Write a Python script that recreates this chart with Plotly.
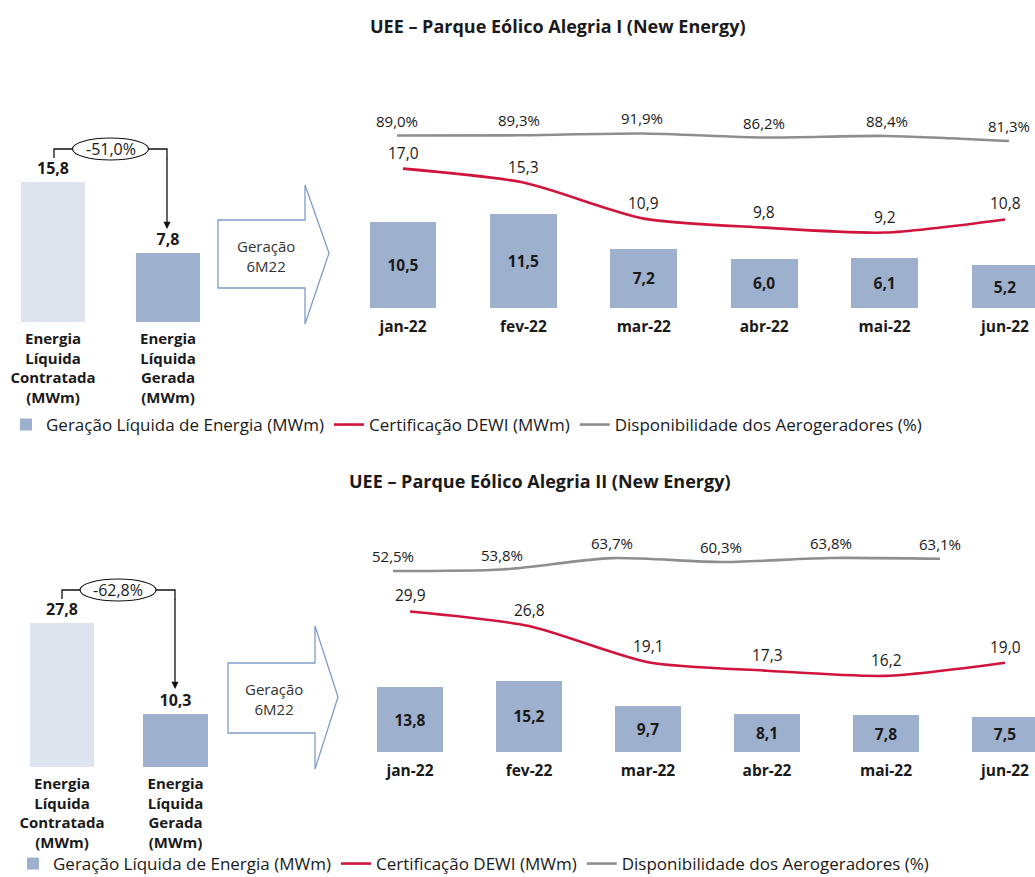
import plotly.graph_objects as go

W, H = 1035, 877


def X(px):
    return px / W


def Y(py):
    return 1 - py / H


# ---------------- data ----------------
months = ["jan-22", "fev-22", "mar-22", "abr-22", "mai-22", "jun-22"]
left_cats = ["Energia<br>Líquida<br>Contratada<br>(MWm)", "Energia<br>Líquida<br>Gerada<br>(MWm)"]
titles = ["UEE – Parque Eólico Alegria I (New Energy)",
          "UEE – Parque Eólico Alegria II (New Energy)"]
series_names = ["Geração Líquida de Energia (MWm)",
                "Certificação DEWI (MWm)",
                "Disponibilidade dos Aerogeradores (%)"]
arrow_label = "Geração<br>6M22"

p1_left = [15.8, 7.8]
p1_change = -51.0
p1_gen = [10.5, 11.5, 7.2, 6.0, 6.1, 5.2]
p1_dewi = [17.0, 15.3, 10.9, 9.8, 9.2, 10.8]
p1_avail = [89.0, 89.3, 91.9, 86.2, 88.4, 81.3]

p2_left = [27.8, 10.3]
p2_change = -62.8
p2_gen = [13.8, 15.2, 9.7, 8.1, 7.8, 7.5]
p2_dewi = [29.9, 26.8, 19.1, 17.3, 16.2, 19.0]
p2_avail = [52.5, 53.8, 63.7, 60.3, 63.8, 63.1]

# ---------------- styles ----------------
FONT = "Open Sans"
TXT = "#1a1a1a"
BAR = "#9DB0CE"
BAR_LIGHT = "#DEE4EE"
RED = "#D0143C"
GRAY = "#8E8E8E"
ARROW_LINE = "#7F9DCB"


def fmt(v, pct=False):
    s = f"{v:.1f}".replace(".", ",")
    return s + ("%" if pct else "")


panels = [
    dict(
        left=p1_left, change=p1_change, gen=p1_gen, dewi=p1_dewi, avail=p1_avail,
        title=titles[0], title_xy=(558, 26), top=90,
        L=dict(c0=53, step=115, base=322, ppu=8.86, bw=0.565, r0=-0.45),
        R=dict(c0=403, step=120.4, base=308, ppu=8.2, bw=0.556),
        G=dict(c0=397, step=122.4, base=308, ref_v=81.3, ref_y=141, ppu=0.71),
        conn=dict(x1=54, y1=158, yh=149, x2=167, ytip=229, ecx=110.5, ew=76, eh=22),
        arr=dict(xl=218, bt=220, bb=288, hx=305, ht=185, hb=324, tx=329, ty=253, cx=266, cy=256),
        legend=(6, 407),
    ),
    dict(
        left=p2_left, change=p2_change, gen=p2_gen, dewi=p2_dewi, avail=p2_avail,
        title=titles[1], title_xy=(540, 481), top=540,
        L=dict(c0=62, step=113.5, base=767, ppu=5.18, bw=0.564, r0=-0.5),
        R=dict(c0=410, step=119, base=752, ppu=4.7, bw=0.56),
        G=dict(c0=393, step=109.4, base=752, ref_v=52.5, ref_y=571, ppu=1.15),
        conn=dict(x1=62, y1=599, yh=590, x2=175, ytip=689, ecx=118, ew=76, eh=22),
        arr=dict(xl=228, bt=663, bb=733, hx=315, ht=626, hb=769, tx=338, ty=697, cx=274, cy=699),
        legend=(13, 846),
    ),
]

fig = go.Figure()
layout = dict(
    width=W, height=H, autosize=False,
    margin=dict(l=0, r=0, t=0, b=0, pad=0, autoexpand=False),
    paper_bgcolor="white", plot_bgcolor="rgba(0,0,0,0)",
    separators=",.",
    font=dict(family=FONT, color=TXT, size=14),
    bargap=0,
    showlegend=True,
)
shapes = []
annotations = []


def hidden_axis(**kw):
    d = dict(showgrid=False, zeroline=False, showline=False, ticks="",
             showticklabels=False, fixedrange=True)
    d.update(kw)
    return d


for pi, P in enumerate(panels):
    k = pi * 3
    xl, xr, xg = f"x{k + 1 if k else ''}", f"x{k + 2}", f"x{k + 3}"
    yl, yr, yg = f"y{k + 1 if k else ''}", f"y{k + 2}", f"y{k + 3}"
    axl = "xaxis" + (str(k + 1) if k else "")
    ayl = "yaxis" + (str(k + 1) if k else "")
    leg = "legend" if pi == 0 else "legend2"
    top = P["top"]

    # ----- left comparison bars -----
    L = P["L"]
    r1 = 1.5
    layout[axl] = hidden_axis(
        type="category", range=[L["r0"], r1],
        domain=[X(L["c0"] + L["r0"] * L["step"]), X(L["c0"] + r1 * L["step"])],
        anchor=yl, showticklabels=True, ticklabelstandoff=6,
        tickfont=dict(family=FONT, size=15, color=TXT, weight="bold"),
    )
    layout[ayl] = hidden_axis(
        range=[0, (L["base"] - top) / L["ppu"]],
        domain=[Y(L["base"]), Y(top)], anchor=xl,
    )
    fig.add_trace(go.Bar(
        x=left_cats, y=P["left"], xaxis=xl, yaxis=yl, width=L["bw"],
        marker=dict(color=[BAR_LIGHT, BAR], line=dict(width=0)),
        texttemplate="%{y:.1f}", textposition="outside", cliponaxis=False,
        textfont=dict(family=FONT, size=16, color=TXT, weight="bold"),
        showlegend=False, hoverinfo="skip",
    ))

    # ----- monthly bars + DEWI line -----
    R = P["R"]
    rr1 = min(5.5, (W - R["c0"]) / R["step"])
    layout["xaxis" + str(k + 2)] = hidden_axis(
        type="category", range=[-0.5, rr1],
        domain=[X(R["c0"] - 0.5 * R["step"]), X(R["c0"] + rr1 * R["step"])],
        anchor=yr, showticklabels=True, ticklabelstandoff=7,
        tickfont=dict(family=FONT, size=15.5, color=TXT, weight="bold"),
    )
    layout["yaxis" + str(k + 2)] = hidden_axis(
        range=[0, (R["base"] - top) / R["ppu"]],
        domain=[Y(R["base"]), Y(top)], anchor=xr,
    )
    fig.add_trace(go.Bar(
        x=months, y=P["gen"], xaxis=xr, yaxis=yr, width=R["bw"],
        name=series_names[0], legend=leg,
        marker=dict(color=BAR, line=dict(width=0)),
        texttemplate="%{y:.1f}", textposition="inside", insidetextanchor="middle",
        textangle=0,
        textfont=dict(family=FONT, size=15.5, color=TXT, weight="bold"),
        hoverinfo="skip",
    ))
    fig.add_trace(go.Scatter(
        x=months, y=P["dewi"], xaxis=xr, yaxis=yr, mode="lines",
        name=series_names[1], legend=leg,
        line=dict(color=RED, width=2.6, shape="spline", smoothing=0.7),
        hoverinfo="skip",
    ))
    for m, v in zip(months, P["dewi"]):
        annotations.append(dict(
            x=m, y=v, xref=xr, yref=yr, text=fmt(v), showarrow=False,
            yshift=16, font=dict(family=FONT, size=15.5, color=TXT),
        ))

    # ----- availability line -----
    G = P["G"]

    def gv(py, G=G):
        return G["ref_v"] + (G["ref_y"] - py) / G["ppu"]

    gr1 = min(5.5, (W - G["c0"]) / G["step"])
    layout["xaxis" + str(k + 3)] = hidden_axis(
        type="category", range=[-0.5, gr1],
        domain=[X(G["c0"] - 0.5 * G["step"]), X(G["c0"] + gr1 * G["step"])],
        anchor=yg,
    )
    layout["yaxis" + str(k + 3)] = hidden_axis(
        range=[gv(G["base"]), gv(top)],
        domain=[Y(G["base"]), Y(top)], anchor=xg,
    )
    fig.add_trace(go.Scatter(
        x=months, y=P["avail"], xaxis=xg, yaxis=yg, mode="lines",
        name=series_names[2], legend=leg,
        line=dict(color=GRAY, width=2.6, shape="spline", smoothing=0.7),
        hoverinfo="skip",
    ))
    for m, v in zip(months, P["avail"]):
        annotations.append(dict(
            x=m, y=v, xref=xg, yref=yg, text=fmt(v, pct=True), showarrow=False,
            yshift=15, font=dict(family=FONT, size=15, color=TXT),
        ))

    # ----- title -----
    tx, ty = P["title_xy"]
    annotations.append(dict(
        x=X(tx), y=Y(ty), xref="paper", yref="paper", showarrow=False,
        text=P["title"], xanchor="center", yanchor="middle",
        font=dict(family=FONT, size=18, color=TXT, weight="bold"),
    ))

    # ----- connector with % change -----
    C = P["conn"]
    shapes.append(dict(
        type="path", xref="paper", yref="paper", layer="above",
        path=f"M {X(C['x1'])},{Y(C['y1'])} L {X(C['x1'])},{Y(C['yh'])} "
             f"L {X(C['x2'])},{Y(C['yh'])} L {X(C['x2'])},{Y(C['yh'] + 10)}",
        line=dict(color="#111111", width=1.3),
    ))
    annotations.append(dict(
        x=X(C["x2"]), y=Y(C["ytip"]), xref="paper", yref="paper",
        ax=0, ay=-(C["ytip"] - C["yh"] - 8), axref="pixel", ayref="pixel",
        showarrow=True, arrowhead=2, arrowsize=1.1, arrowwidth=1.3,
        arrowcolor="#111111", text="", standoff=0,
    ))
    shapes.append(dict(
        type="circle", xref="paper", yref="paper", layer="above",
        x0=X(C["ecx"] - C["ew"] / 2), x1=X(C["ecx"] + C["ew"] / 2),
        y0=Y(C["yh"] + C["eh"] / 2), y1=Y(C["yh"] - C["eh"] / 2),
        fillcolor="white", line=dict(color="#111111", width=1.1),
    ))
    annotations.append(dict(
        x=X(C["ecx"]), y=Y(C["yh"]), xref="paper", yref="paper", showarrow=False,
        text=fmt(P["change"], pct=True), xanchor="center", yanchor="middle",
        font=dict(family=FONT, size=16, color=TXT),
    ))

    # ----- block arrow "Geração 6M22" -----
    A = P["arr"]
    pts = [(A["xl"], A["bt"]), (A["hx"], A["bt"]), (A["hx"], A["ht"]), (A["tx"], A["ty"]),
           (A["hx"], A["hb"]), (A["hx"], A["bb"]), (A["xl"], A["bb"])]
    path = "M " + " L ".join(f"{X(a)},{Y(b)}" for a, b in pts) + " Z"
    shapes.append(dict(
        type="path", xref="paper", yref="paper", path=path, layer="above",
        fillcolor="white", line=dict(color=ARROW_LINE, width=1.3),
    ))
    annotations.append(dict(
        x=X(A["cx"]), y=Y(A["cy"]), xref="paper", yref="paper", showarrow=False,
        text=arrow_label, xanchor="center", yanchor="middle",
        font=dict(family=FONT, size=15, color="#333333"),
    ))

    # ----- legend -----
    lx, ly = P["legend"]
    layout[leg] = dict(
        x=X(lx), y=Y(ly), xanchor="left", yanchor="top", orientation="h",
        font=dict(family=FONT, size=17, color=TXT), bgcolor="rgba(0,0,0,0)",
        itemwidth=30, tracegroupgap=0, traceorder="normal",
    )

layout["shapes"] = shapes
layout["annotations"] = annotations
fig.update_layout(**layout)

fig.write_html("out.html", config={"displayModeBar": False, "staticPlot": True},
               post_script="document.body.style.margin='0';")
